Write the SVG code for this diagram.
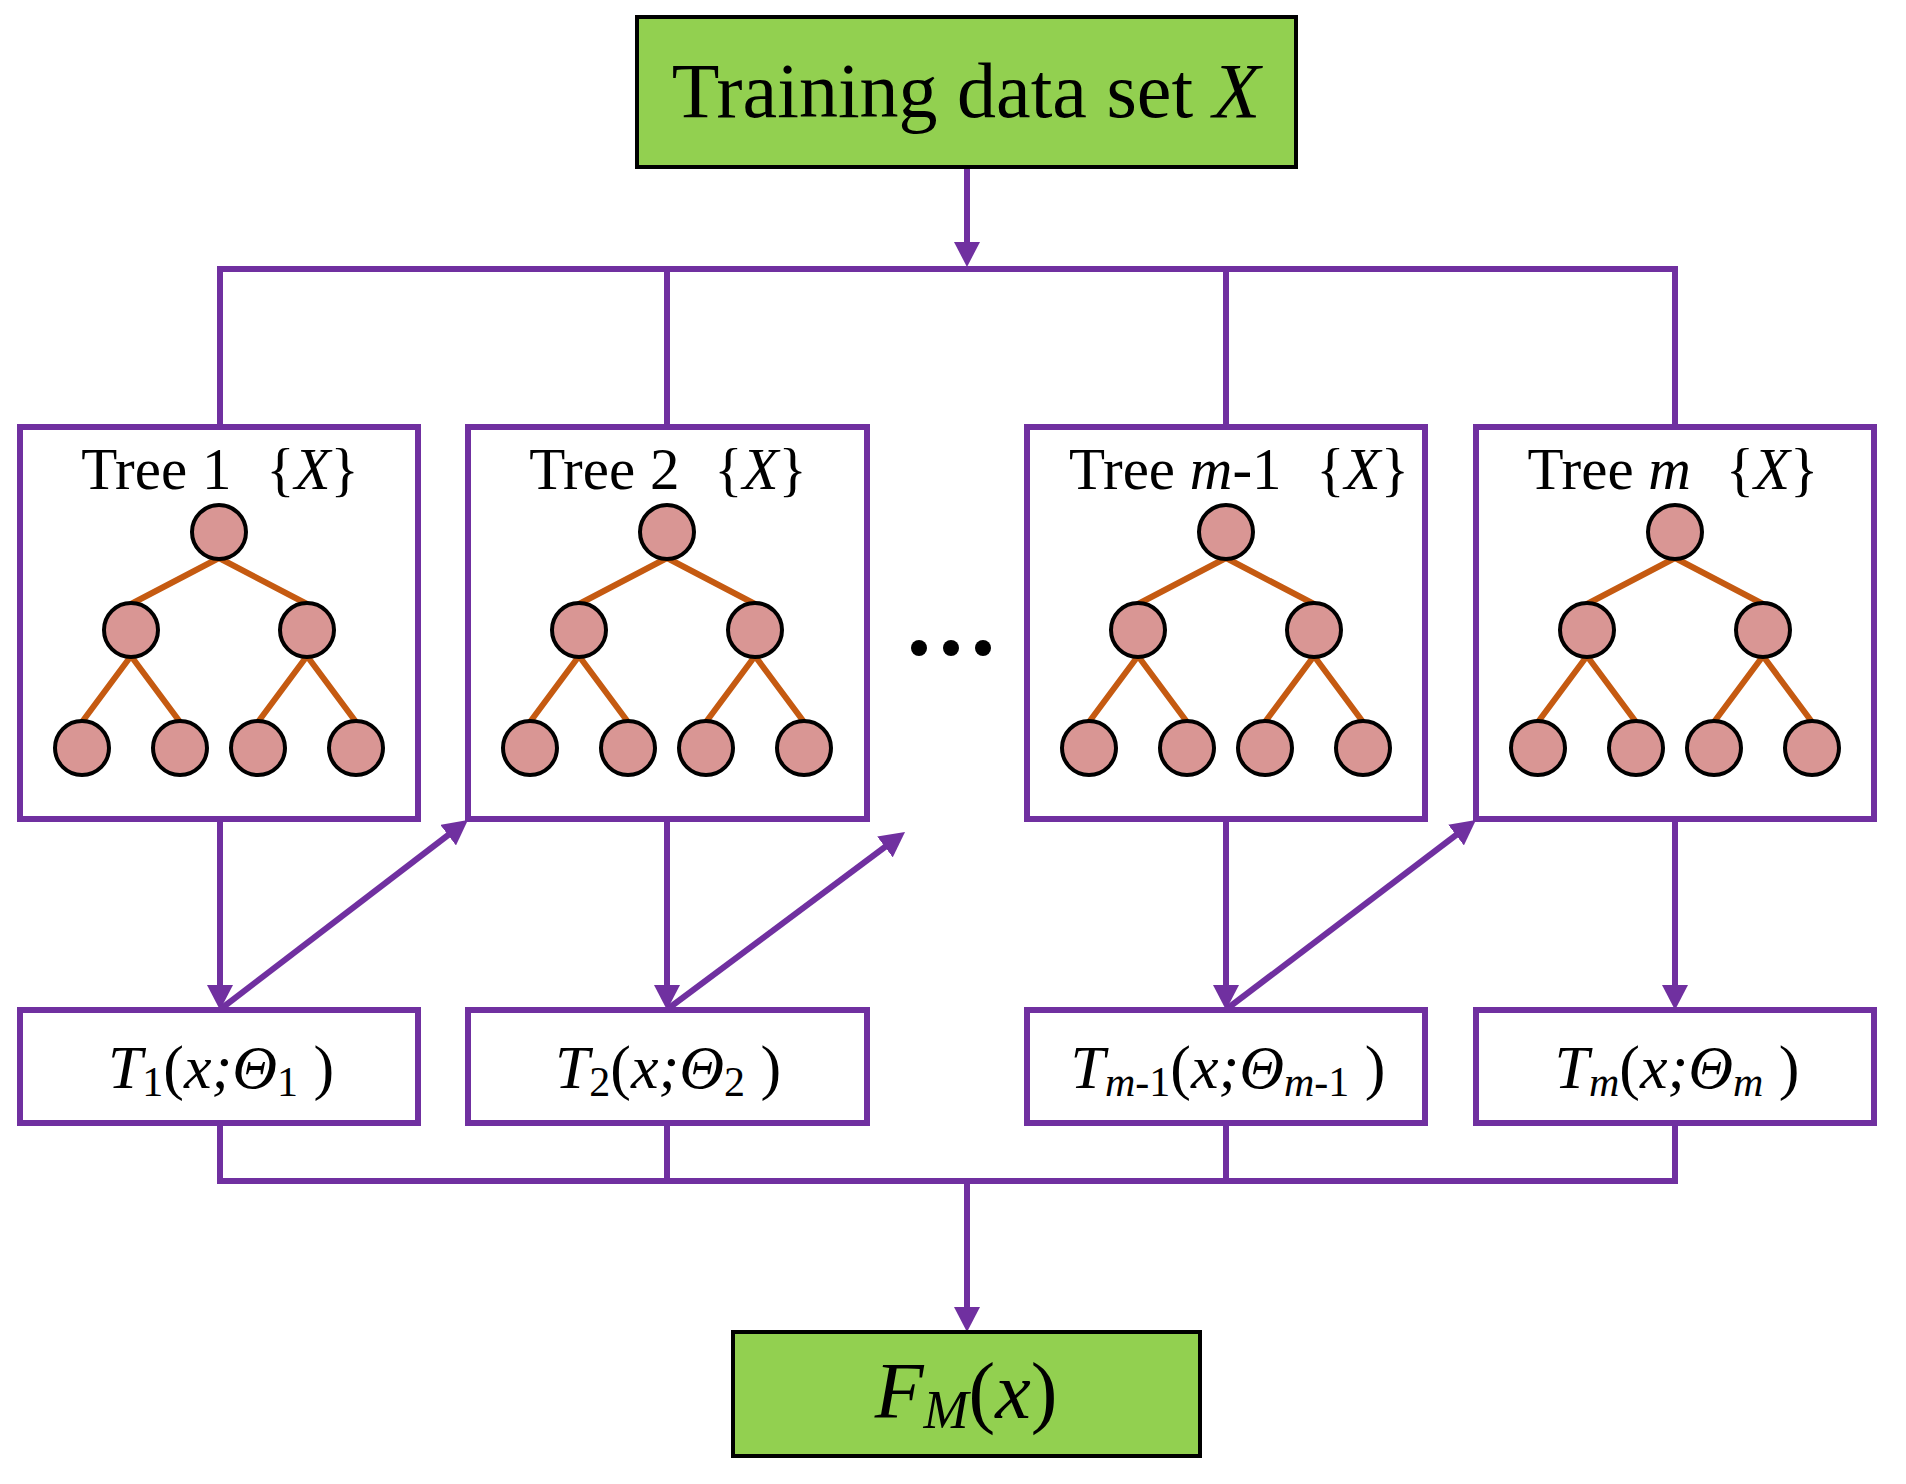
<svg xmlns="http://www.w3.org/2000/svg" width="1906" height="1484" viewBox="0 0 1906 1484">
<style>
  .txt { font-family: "Liberation Serif", "Times New Roman", serif; fill: #000; }
  .it { font-style: italic; }
  .green { fill: #92d050; stroke: #000; stroke-width: 4; }
  .pbox { fill: #fff; stroke: #7030a0; stroke-width: 6; }
  .wire { fill: none; stroke: #7030a0; stroke-width: 6; }
  .edge { stroke: #c55a11; stroke-width: 6; stroke-linecap: round; }
  .node { fill: #d99694; stroke: #000; stroke-width: 4; }
</style>
<defs>
  <marker id="ah" markerUnits="userSpaceOnUse" markerWidth="26" markerHeight="26" refX="15" refY="13" orient="auto">
    <path d="M0,0 L25,13 L0,26 Z" fill="#7030a0"/>
  </marker>
  <g id="tree">
    <line class="edge" x1="0" y1="558" x2="-88" y2="604"/>
    <line class="edge" x1="0" y1="558" x2="88" y2="604"/>
    <line class="edge" x1="-88" y1="656" x2="-137" y2="722"/>
    <line class="edge" x1="-88" y1="656" x2="-39" y2="722"/>
    <line class="edge" x1="88" y1="656" x2="39" y2="722"/>
    <line class="edge" x1="88" y1="656" x2="137" y2="722"/>
    <circle class="node" cx="0" cy="532" r="27"/>
    <circle class="node" cx="-88" cy="630" r="27"/>
    <circle class="node" cx="88" cy="630" r="27"/>
    <circle class="node" cx="-137" cy="748" r="27"/>
    <circle class="node" cx="-39" cy="748" r="27"/>
    <circle class="node" cx="39" cy="748" r="27"/>
    <circle class="node" cx="137" cy="748" r="27"/>
  </g>
</defs>
<rect width="1906" height="1484" fill="#fff"/>

<g id="connectors">
  <line class="wire" x1="967" y1="167" x2="967" y2="257" marker-end="url(#ah)"/>
  <polyline class="wire" points="220,427 220,269 1675,269 1675,427"/>
  <line class="wire" x1="667" y1="269" x2="667" y2="427"/>
  <line class="wire" x1="1226" y1="269" x2="1226" y2="427"/>
  <line class="wire" x1="220" y1="819" x2="220" y2="1000" marker-end="url(#ah)"/>
  <line class="wire" x1="667" y1="819" x2="667" y2="1000" marker-end="url(#ah)"/>
  <line class="wire" x1="1226" y1="819" x2="1226" y2="1000" marker-end="url(#ah)"/>
  <line class="wire" x1="1675" y1="819" x2="1675" y2="1000" marker-end="url(#ah)"/>
  <line class="wire" x1="222" y1="1008" x2="460" y2="826" marker-end="url(#ah)"/>
  <line class="wire" x1="669" y1="1008" x2="897" y2="838" marker-end="url(#ah)"/>
  <line class="wire" x1="1228" y1="1008" x2="1468" y2="826" marker-end="url(#ah)"/>
  <polyline class="wire" points="220,1123 220,1181 1675,1181 1675,1123"/>
  <line class="wire" x1="667" y1="1123" x2="667" y2="1181"/>
  <line class="wire" x1="1226" y1="1123" x2="1226" y2="1181"/>
  <line class="wire" x1="967" y1="1181" x2="967" y2="1322" marker-end="url(#ah)"/>
</g>

<g id="training">
  <rect class="green" x="637" y="17" width="659" height="150"/>
  <text class="txt" x="966" y="117" font-size="78" text-anchor="middle">Training data set <tspan class="it">X</tspan></text>
</g>

<g id="tree1">
  <rect class="pbox" x="20" y="427" width="398" height="392"/>
  <text class="txt" x="220" y="489" font-size="59" text-anchor="middle">Tree 1 <tspan dx="20">{</tspan><tspan class="it">X</tspan>}</text>
  <use href="#tree" x="219"/>
</g>
<g id="tree2">
  <rect class="pbox" x="468" y="427" width="399" height="392"/>
  <text class="txt" x="668" y="489" font-size="59" text-anchor="middle">Tree 2 <tspan dx="20">{</tspan><tspan class="it">X</tspan>}</text>
  <use href="#tree" x="667"/>
</g>
<g id="ellipsis">
  <circle cx="919" cy="648" r="8" fill="#000"/>
  <circle cx="951" cy="648" r="8" fill="#000"/>
  <circle cx="983" cy="648" r="8" fill="#000"/>
</g>
<g id="tree3">
  <rect class="pbox" x="1027" y="427" width="398" height="392"/>
  <text class="txt" x="1239" y="489" font-size="59" text-anchor="middle">Tree <tspan class="it">m</tspan>-1 <tspan dx="20">{</tspan><tspan class="it">X</tspan>}</text>
  <use href="#tree" x="1226"/>
</g>
<g id="tree4">
  <rect class="pbox" x="1476" y="427" width="398" height="392"/>
  <text class="txt" x="1673" y="489" font-size="59" text-anchor="middle">Tree <tspan class="it">m</tspan> <tspan dx="20">{</tspan><tspan class="it">X</tspan>}</text>
  <use href="#tree" x="1675"/>
</g>

<g id="t1">
  <rect class="pbox" x="20" y="1010" width="398" height="113"/>
  <text class="txt" x="221" y="1088" font-size="62" text-anchor="middle"><tspan class="it">T</tspan><tspan font-size="42" dy="8">1</tspan><tspan dy="-8">(</tspan><tspan class="it">x;Θ</tspan><tspan font-size="42" dy="8">1</tspan><tspan dy="-8"> )</tspan></text>
</g>
<g id="t2">
  <rect class="pbox" x="468" y="1010" width="399" height="113"/>
  <text class="txt" x="668" y="1088" font-size="62" text-anchor="middle"><tspan class="it">T</tspan><tspan font-size="42" dy="8">2</tspan><tspan dy="-8">(</tspan><tspan class="it">x;Θ</tspan><tspan font-size="42" dy="8">2</tspan><tspan dy="-8"> )</tspan></text>
</g>
<g id="t3">
  <rect class="pbox" x="1027" y="1010" width="398" height="113"/>
  <text class="txt" x="1228" y="1088" font-size="62" text-anchor="middle"><tspan class="it">T</tspan><tspan font-size="42" dy="8"><tspan class="it">m</tspan>-1</tspan><tspan dy="-8">(</tspan><tspan class="it">x;Θ</tspan><tspan font-size="42" dy="8"><tspan class="it">m</tspan>-1</tspan><tspan dy="-8"> )</tspan></text>
</g>
<g id="t4">
  <rect class="pbox" x="1476" y="1010" width="398" height="113"/>
  <text class="txt" x="1677" y="1088" font-size="62" text-anchor="middle"><tspan class="it">T</tspan><tspan class="it" font-size="42" dy="8">m</tspan><tspan dy="-8">(</tspan><tspan class="it">x;Θ</tspan><tspan class="it" font-size="42" dy="8">m</tspan><tspan dy="-8"> )</tspan></text>
</g>

<g id="output">
  <rect class="green" x="733" y="1332" width="467" height="124"/>
  <text class="txt" x="966" y="1418" font-size="80" text-anchor="middle"><tspan class="it">F</tspan><tspan class="it" font-size="54" dy="10">M</tspan><tspan dy="-10">(</tspan><tspan class="it">x</tspan>)</text>
</g>
</svg>
